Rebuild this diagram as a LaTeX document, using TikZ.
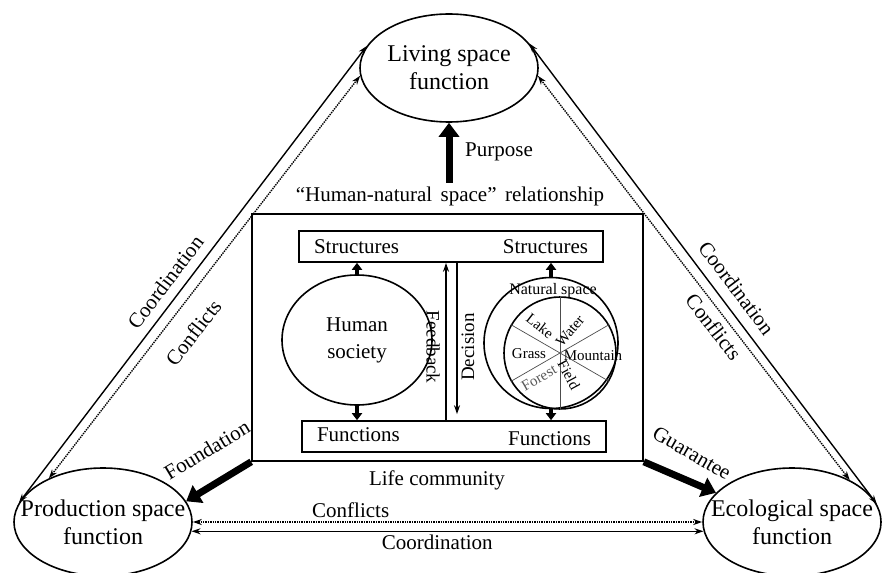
\documentclass[tikz,border=0pt]{standalone}
\usepackage{fontspec}
\setmainfont{Liberation Serif}
\usetikzlibrary{shapes.geometric,arrows.meta,positioning}

\begin{document}
\begin{tikzpicture}[x=1pt, y=-1pt, >={Stealth[length=9pt,width=6pt]}]
    \tikzstyle{func} = [ellipse, draw, line width=1.6pt, inner sep=0pt, minimum width=178pt, minimum height=108pt, align=center, font=\fontsize{24}{28}\selectfont]
    \tikzstyle{bar} = [rectangle, draw, line width=1.6pt, minimum height=31pt, inner xsep=15pt, inner ysep=0pt, text width=274pt, font=\fontsize{21}{25}\selectfont]
    \tikzstyle{blob} = [ellipse, draw, line width=1.6pt, inner sep=0pt, align=center, font=\fontsize{21}{27}\selectfont]
    \tikzstyle{lbl} = [font=\fontsize{21}{25}\selectfont]
    \tikzstyle{piece} = [font=\fontsize{15}{17}\selectfont, inner sep=0pt]
    \tikzstyle{push} = [-{Triangle[length=14pt,width=20pt]}, line width=7pt]
    \tikzstyle{link} = [-{Triangle[length=7pt,width=10pt]}, line width=3.5pt]
    \tikzstyle{coord} = [<->, line width=1.4pt]
    \tikzstyle{confl} = [<->, line width=1.4pt, densely dotted]

    \useasboundingbox (0,0) rectangle (882,572);

    % Space functions
    \node [func] (living) at (449,68) {Living space\\function};
    \node [func] (production) at (103,522) {\makebox[0pt]{Production space}\\function};
    \node [func] (ecological) at (792,522) {\makebox[0pt]{Ecological space}\\function};

    % Life community frame
    \node [draw, line width=1.6pt, minimum width=391pt, minimum height=247pt, inner sep=0pt] (community) at (447.5,337.5) {};
    \node [lbl] (relation) at (450,196) {“Human-natural\hspace{0.4em}space”\hspace{0.4em}relationship};
    \node [lbl] (life) at (437,480) {Life community};

    \node [bar] (structs) at (451,246.5) {Structures\hfill Structures};
    \node [bar] (funcs) at (454,436.5) {Functions\hfill\raisebox{-4pt}{Functions}};

    % Human society and natural space
    \node [blob, minimum width=150pt, minimum height=130pt] (human) at (357,340) {Human\\society};
    \node [blob, minimum width=134pt, minimum height=131pt] (natural) at (551,343) {};
    \node [circle, draw, line width=1.6pt, minimum size=112pt, inner sep=0pt] (inner) at (560,353) {};
    \draw [line width=0.7pt, black!70] (inner.90) -- (inner.270);
    \draw [line width=0.7pt, black!70] (inner.150) -- (inner.330);
    \draw [line width=0.7pt, black!70] (inner.210) -- (inner.30);

    \node [piece, font=\fontsize{16}{18}\selectfont] (natspace) at (553,291) {Natural space};
    \node [piece, rotate=-38] (lake) at (540,326) {Lake};
    \node [piece, rotate=50] (water) at (570,331) {Water};
    \node [piece] (grass) at (529,354) {Grass};
    \node [piece] (mountain) at (593,356) {Mountain};
    \node [piece, rotate=30, text=black!65] (forest) at (539,378) {Forest};
    \node [piece, rotate=-62] (field) at (569,375) {Field};

    % Structures and functions links
    \draw [link] (human.north) -- (human.north |- structs.south);
    \draw [link] (human.south) -- (human.south |- funcs.north);
    \draw [link] (natural.north) -- (natural.north |- structs.south);
    \draw [link] (natural.south) -- (natural.south |- funcs.north);

    \coordinate (fb) at ([xshift=-5pt]structs.south);
    \coordinate (dc) at ([xshift=6pt]structs.south);
    \coordinate (dcend) at (dc |- funcs.north);
    \draw [->, line width=1.4pt] (fb |- funcs.north) -- (fb);
    \draw [->, line width=1.4pt] (dc) -- ([yshift=6pt]dcend);
    \node [lbl, font=\fontsize{19}{22}\selectfont, rotate=-90] (feedback) at (433,347) {Feedback};
    \node [lbl, font=\fontsize{19}{22}\selectfont, rotate=90] (decision) at (468,347) {Decision};

    % Purpose, foundation, guarantee
    \draw [push] (relation.north -| living.south) -- (living.south);
    \node [lbl] (purpose) at (499,152) {Purpose};
    \draw [push] (community.south west) -- (production.14);
    \draw [push] (community.south east) -- (ecological.159);
    \node [lbl, rotate=31] (foundation) at (207,450) {Foundation};
    \node [lbl, rotate=-30] (guarantee) at (692,453) {Guarantee};

    % Coordination and conflicts
    \draw [coord] (production.167) -- node [lbl, sloped, above, pos=0.46, inner sep=9pt] (coordl) {Coordination} (living.165);
    \draw [confl] (production.141) -- node [lbl, sloped, below, pos=0.40, inner sep=17pt] (conflictl) {Conflicts} (living.185);
    \draw [coord] (living.17) -- node [lbl, sloped, above, pos=0.555, inner sep=10pt] (coordr) {Coordination} (ecological.12);
    \draw [confl] (living.-5) -- node [lbl, sloped, below, pos=0.60, inner sep=6pt] (conflictr) {Conflicts} (ecological.36);
    \draw [confl] (production.east) -- node [lbl, above, pos=0.31] (conflictb) {Conflicts} (ecological.west);
    \draw [coord] (production.-6) -- node [lbl, below, pos=0.48] (coordb) {Coordination} (ecological.186);
\end{tikzpicture}
\end{document}
